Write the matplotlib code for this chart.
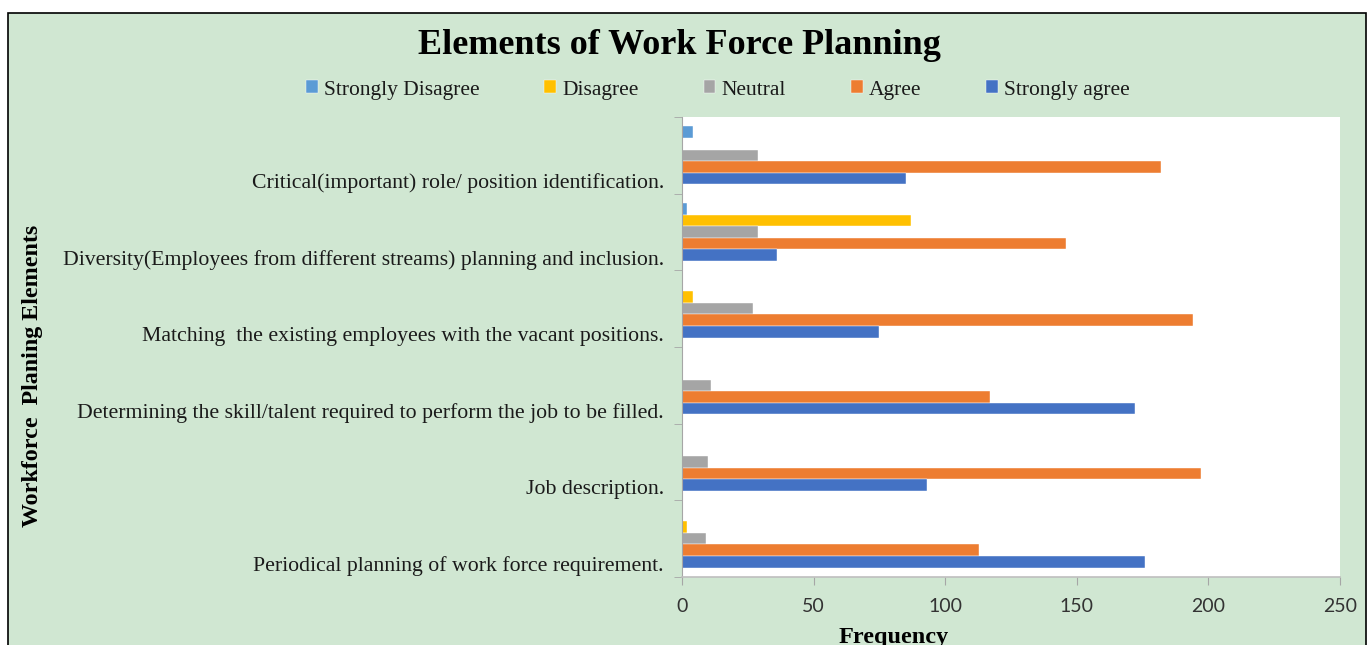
import matplotlib
matplotlib.use("Agg")
import matplotlib.pyplot as plt
import numpy as np
from matplotlib.patches import Rectangle
from matplotlib.ticker import FixedLocator

categories = [
    "Periodical planning of work force requirement.",
    "Job description.",
    "Determining the skill/talent required to perform the job to be filled.",
    "Matching  the existing employees with the vacant positions.",
    "Diversity(Employees from different streams) planning and inclusion.",
    "Critical(important) role/ position identification.",
]
series_names = ["Strongly Disagree", "Disagree", "Neutral", "Agree", "Strongly agree"]
strongly_disagree = [0, 0, 0, 0, 2, 4]
disagree = [2, 0, 0, 4, 87, 0]
neutral = [9, 10, 11, 27, 29, 29]
agree = [113, 197, 117, 194, 146, 182]
strongly_agree = [176, 93, 172, 75, 36, 85]
colors = ["#5B9BD5", "#FFC000", "#A5A5A5", "#ED7D31", "#4472C4"]
x_ticks = [0, 50, 100, 150, 200, 250]

W, H = 1370, 645
fig = plt.figure(figsize=(W / 100, H / 100), dpi=100, facecolor="white")
bg = "#D0E7D2"
fig.patches.append(Rectangle((8 / W, -0.02), (1366 - 8) / W, (H - 13) / H + 0.02,
                             transform=fig.transFigure, facecolor=bg,
                             edgecolor="black", linewidth=1.2, zorder=-10))

ax = fig.add_axes([682 / W, 1 - 577 / H, (1340 - 682) / W, (577 - 117) / H])
ax.set_facecolor("white")

y = np.arange(len(categories))
h = 0.152
series = [strongly_disagree, disagree, neutral, agree, strongly_agree]
offsets = [2, 1, 0, -1, -2]
for name, vals, col, off in zip(series_names, series, colors, offsets):
    ax.barh(y + off * h, vals, height=h, color=col, label=name,
            edgecolor="white", linewidth=0.3)

ax.set_xlim(0, 250)
ax.set_ylim(-0.5, len(categories) - 0.5)
ax.set_xticks(x_ticks)
ax.set_xticklabels([str(t) for t in x_ticks], fontfamily="Lato", fontsize=14, color="#333333")
ax.tick_params(axis="x", length=6, color="#A6A6A6", pad=9)

ax.yaxis.set_major_locator(FixedLocator(list(y - 0.33)))
ax.set_yticklabels(categories, fontfamily="Liberation Serif", fontsize=15.7, color="#1a1a1a")
ax.yaxis.set_minor_locator(FixedLocator(list(np.arange(-0.5, len(categories), 1.0))))
ax.tick_params(axis="y", which="major", length=0, pad=13)
ax.tick_params(axis="y", which="minor", length=6, color="#A6A6A6")

for s in ["top", "right"]:
    ax.spines[s].set_visible(False)
ax.spines["left"].set_color("#A6A6A6")
ax.spines["bottom"].set_color("#BFBFBF")
ax.spines["bottom"].set_linewidth(1.2)

fig.text(679 / W, 1 - 45 / H, "Elements of Work Force Planning", ha="center", va="center",
         fontfamily="Liberation Serif", fontweight="bold", fontsize=26)
fig.text(33 / W, 1 - 376 / H, "Workforce  Planing Elements", ha="center", va="center",
         rotation=90, fontfamily="Liberation Serif", fontweight="bold", fontsize=17.3)
fig.text(894 / W, 1 - 637 / H, "Frequency", ha="center", va="center",
         fontfamily="Liberation Serif", fontweight="bold", fontsize=17.5)

handles, labels = ax.get_legend_handles_labels()
leg = fig.legend(handles, labels, loc="center", bbox_to_anchor=(718 / W, 1 - 90 / H),
                 ncol=5, frameon=False, prop={"family": "Liberation Serif", "size": 15.5},
                 handlelength=0.55, handleheight=0.55, handletextpad=0.3, columnspacing=3.0)
for t in leg.get_texts():
    t.set_color("#1a1a1a")

fig.savefig("out.png", dpi=100, facecolor="white")
